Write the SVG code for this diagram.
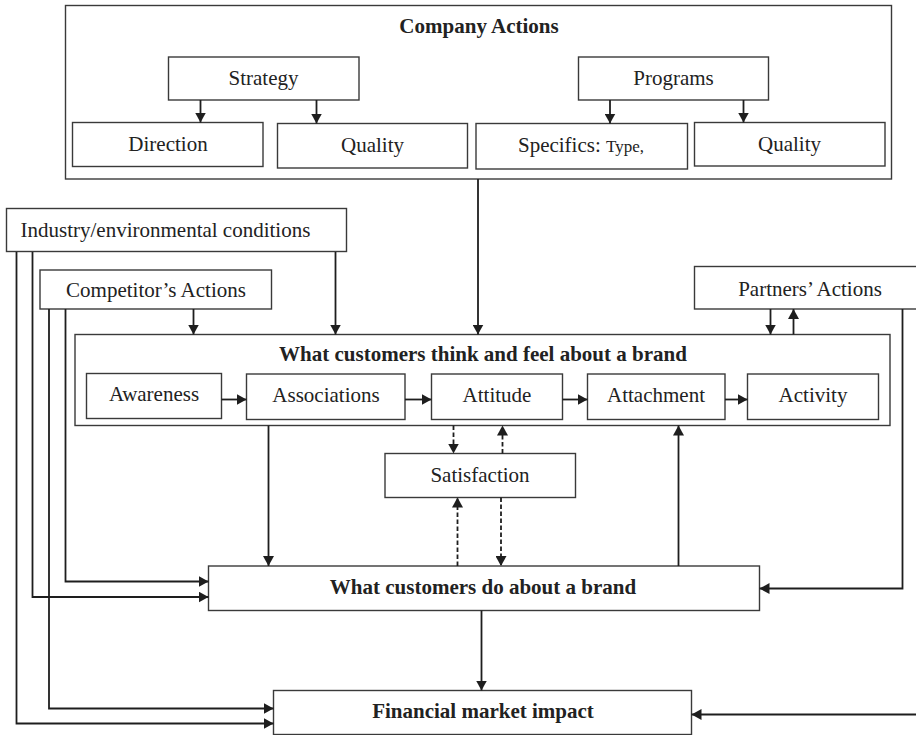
<svg xmlns="http://www.w3.org/2000/svg" width="916" height="735" viewBox="0 0 916 735">
  <style>
    .box { fill: #fff; stroke: #3a3a3a; stroke-width: 1.4; }
    .t { font-family: "Liberation Serif", "Times New Roman", serif; font-size: 21px; fill: #222; text-anchor: middle; }
    .b { font-weight: bold; font-size: 21px; }
    .ln { fill: none; stroke: #1e1e1e; stroke-width: 1.8; }
    .arr { marker-end: url(#ah); }
    .dash { stroke-dasharray: 4.5 2.5; }
  </style>
  <defs>
    <marker id="ah" markerUnits="userSpaceOnUse" markerWidth="11" markerHeight="11" refX="10" refY="5.5" orient="auto" viewBox="0 0 11 11">
      <path d="M0,0 L10,5.5 L0,11 z" fill="#1e1e1e"/>
    </marker>
  </defs>

  <!-- Company actions -->
  <g id="company-actions">
    <rect class="box" x="65.5" y="5.5" width="826" height="173.5"/>
    <text class="t b" x="479" y="33">Company Actions</text>
  </g>
  <g id="strategy">
    <rect class="box" x="168.5" y="57" width="190.5" height="43"/>
    <text class="t" x="263.5" y="85">Strategy</text>
  </g>
  <g id="direction">
    <rect class="box" x="72.5" y="122.5" width="190.5" height="44"/>
    <text class="t" x="168" y="151">Direction</text>
  </g>
  <g id="strategy-quality">
    <rect class="box" x="277.5" y="123.5" width="190" height="44.5"/>
    <text class="t" x="372.5" y="152">Quality</text>
  </g>
  <g id="programs">
    <rect class="box" x="578.5" y="57" width="190" height="43"/>
    <text class="t" x="673.5" y="85">Programs</text>
  </g>
  <g id="specifics">
    <rect class="box" x="476" y="123.5" width="211.5" height="45.5"/>
    <text class="t" x="581" y="152">Specifics: <tspan font-size="17">Type,</tspan></text>
  </g>
  <g id="programs-quality">
    <rect class="box" x="694.5" y="122.5" width="190.5" height="43.5"/>
    <text class="t" x="789.5" y="151">Quality</text>
  </g>

  <!-- Context boxes -->
  <g id="industry">
    <rect class="box" x="6.5" y="208.5" width="340" height="43"/>
    <text class="t" x="20.5" y="237" style="text-anchor:start">Industry/environmental conditions</text>
  </g>
  <g id="competitor">
    <rect class="box" x="40" y="270" width="231.5" height="39"/>
    <text class="t" x="156" y="297">Competitor’s Actions</text>
  </g>
  <g id="partners">
    <rect class="box" x="694.5" y="266.5" width="230" height="42.5"/>
    <text class="t" x="810" y="295.5">Partners’ Actions</text>
  </g>

  <!-- Think and feel -->
  <g id="think-feel">
    <rect class="box" x="75" y="334.5" width="815" height="91"/>
    <text class="t b" x="483" y="361">What customers think and feel about a brand</text>
  </g>
  <g id="awareness">
    <rect class="box" x="86.5" y="373.5" width="135" height="45"/>
    <text class="t" x="154" y="401">Awareness</text>
  </g>
  <g id="associations">
    <rect class="box" x="246.5" y="374" width="158.5" height="45.5"/>
    <text class="t" x="326" y="402">Associations</text>
  </g>
  <g id="attitude">
    <rect class="box" x="431.5" y="374" width="131" height="45.5"/>
    <text class="t" x="497" y="402">Attitude</text>
  </g>
  <g id="attachment">
    <rect class="box" x="587.5" y="374" width="137.5" height="45.5"/>
    <text class="t" x="656" y="402">Attachment</text>
  </g>
  <g id="activity">
    <rect class="box" x="747.5" y="374" width="131" height="45.5"/>
    <text class="t" x="813" y="402">Activity</text>
  </g>

  <g id="satisfaction">
    <rect class="box" x="385" y="453.5" width="190.5" height="44"/>
    <text class="t" x="480" y="482">Satisfaction</text>
  </g>
  <g id="do">
    <rect class="box" x="208.5" y="566" width="551" height="44.5"/>
    <text class="t b" x="483" y="594">What customers do about a brand</text>
  </g>
  <g id="financial">
    <rect class="box" x="273.5" y="690.5" width="418" height="44"/>
    <text class="t b" x="483" y="718">Financial market impact</text>
  </g>

  <!-- Connectors -->
  <g id="connectors">
    <!-- inside company actions -->
    <line class="ln arr" x1="200.5" y1="100" x2="200.5" y2="122.5"/>
    <line class="ln arr" x1="316.5" y1="100" x2="316.5" y2="123.5"/>
    <line class="ln arr" x1="610" y1="100" x2="610" y2="123.5"/>
    <line class="ln arr" x1="743.5" y1="100" x2="743.5" y2="122.5"/>
    <!-- into think/feel -->
    <line class="ln arr" x1="478" y1="179" x2="478" y2="334.5"/>
    <line class="ln arr" x1="335.5" y1="252" x2="335.5" y2="334.5"/>
    <line class="ln arr" x1="193.5" y1="309" x2="193.5" y2="334.5"/>
    <line class="ln arr" x1="770.5" y1="309" x2="770.5" y2="334.5"/>
    <line class="ln arr" x1="793.5" y1="334.5" x2="793.5" y2="309"/>
    <!-- brand-knowledge chain -->
    <line class="ln arr" x1="221.5" y1="399.5" x2="246.5" y2="399.5"/>
    <line class="ln arr" x1="405" y1="399.5" x2="431.5" y2="399.5"/>
    <line class="ln arr" x1="562.5" y1="399.5" x2="587.5" y2="399.5"/>
    <line class="ln arr" x1="725" y1="399.5" x2="747.5" y2="399.5"/>
    <!-- satisfaction loop -->
    <line class="ln arr dash" x1="453.5" y1="425.5" x2="453.5" y2="453.5"/>
    <line class="ln arr dash" x1="502.5" y1="453.5" x2="502.5" y2="425.5"/>
    <line class="ln arr dash" x1="457.5" y1="566" x2="457.5" y2="497.5"/>
    <line class="ln arr dash" x1="501" y1="497.5" x2="501" y2="566"/>
    <!-- think/feel <-> do -->
    <line class="ln arr" x1="268.5" y1="425.5" x2="268.5" y2="566"/>
    <line class="ln arr" x1="678.5" y1="566" x2="678.5" y2="425.5"/>
    <!-- do -> financial -->
    <line class="ln arr" x1="481.5" y1="610.5" x2="481.5" y2="690.5"/>
    <!-- left feeders -->
    <polyline class="ln arr" points="65.5,309 65.5,581.5 208.5,581.5"/>
    <polyline class="ln arr" points="32.5,252 32.5,597 208.5,597"/>
    <polyline class="ln arr" points="49,309 49,708.5 273.5,708.5"/>
    <polyline class="ln arr" points="16.5,252 16.5,723.5 273.5,723.5"/>
    <!-- right feeders -->
    <polyline class="ln arr" points="902.5,309 902.5,588.5 759.5,588.5"/>
    <line class="ln arr" x1="916" y1="714.5" x2="691.5" y2="714.5"/>
  </g>
</svg>
